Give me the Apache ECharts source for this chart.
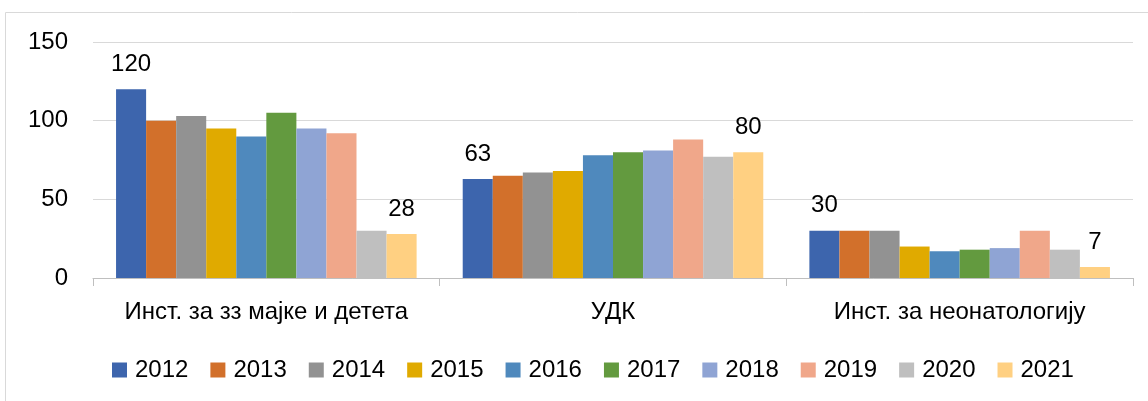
<!DOCTYPE html>
<html><head><meta charset="utf-8">
<script src="https://cdn.jsdelivr.net/npm/echarts@6/dist/echarts.min.js"></script>
<style>html,body{margin:0;padding:0;background:#fff}#c{width:1148px;height:401px}</style>
</head><body><div id="c"></div>
<script>
const categories = ['Инст. за зз мајке и детета', 'УДК', 'Инст. за неонатологију'];
const years = ['2012','2013','2014','2015','2016','2017','2018','2019','2020','2021'];
const v2012 = [120, 63, 30];
const v2013 = [100, 65, 30];
const v2014 = [103, 67, 30];
const v2015 = [95, 68, 20];
const v2016 = [90, 78, 17];
const v2017 = [105, 80, 18];
const v2018 = [95, 81, 19];
const v2019 = [92, 88, 30];
const v2020 = [30, 77, 18];
const v2021 = [28, 80, 7];
const yTicks = [0, 50, 100, 150];
const colors = ['#3D65AD','#D2702B','#929292','#E0AA00','#4F89BD','#639A3F','#8FA4D4','#F0A78A','#BFBFBF','#FFD082'];
const values = [v2012,v2013,v2014,v2015,v2016,v2017,v2018,v2019,v2020,v2021];
const labeled = {'2012': true, '2021': true};
const FONT = 'Liberation Sans';

const chart = echarts.init(document.getElementById('c'), null, {renderer: 'canvas'});
chart.setOption({
  animation: false,
  color: colors,
  textStyle: {fontFamily: FONT},
  graphic: [{type: 'rect', shape: {x: 5.5, y: 12.5, width: 1300, height: 500}, style: {fill: 'none', stroke: '#d9d9d9', lineWidth: 1}, silent: true}],
  grid: {left: 93, right: 15, top: 42, bottom: 123, containLabel: false},
  legend: {
    left: 107, top: 353, itemWidth: 15, itemHeight: 15, itemGap: 22,
    icon: 'rect',
    textStyle: {fontFamily: FONT, fontSize: 24, color: '#000', padding: [0,0,0,3]},
    data: years
  },
  xAxis: {
    type: 'category', data: categories,
    axisLine: {lineStyle: {color: '#bfbfbf', width: 1}},
    axisTick: {show: true, length: 8, lineStyle: {color: '#bfbfbf'}},
    axisLabel: {interval: 0, hideOverlap: false, fontFamily: FONT, fontSize: 24, color: '#000', margin: 22}
  },
  yAxis: {
    type: 'value', min: yTicks[0], max: yTicks[yTicks.length-1], interval: 50,
    axisLine: {show: false}, axisTick: {show: false},
    axisLabel: {fontFamily: FONT, fontSize: 24, color: '#000', margin: 25},
    splitLine: {lineStyle: {color: '#d9d9d9', width: 1}}
  },
  series: years.map((y, i) => ({
    name: y, type: 'bar', data: values[i],
    barGap: '0%', barCategoryGap: '13.3%',
    itemStyle: {color: colors[i]},
    label: {show: !!labeled[y], position: 'top', distance: 13, fontFamily: FONT, fontSize: 24, color: '#000'}
  }))
});
</script></body></html>
